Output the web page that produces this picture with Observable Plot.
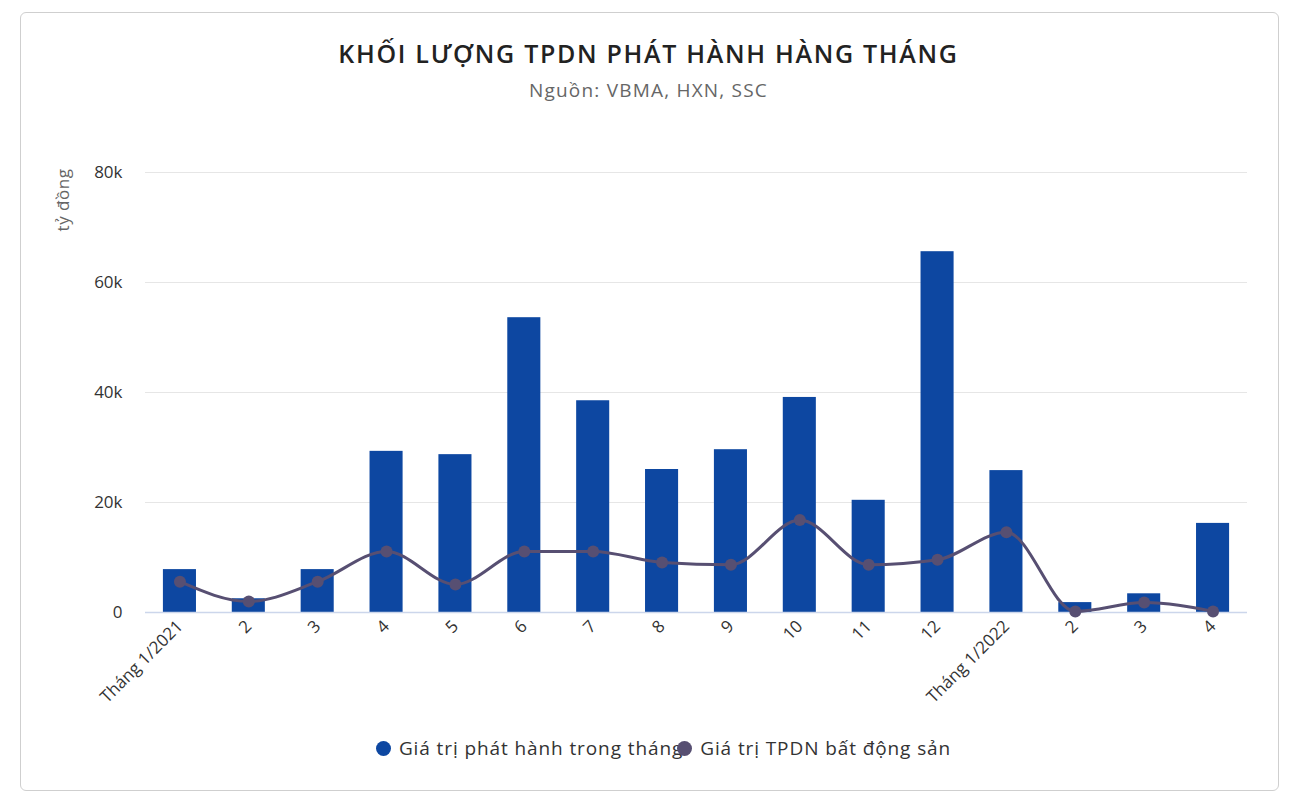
<!DOCTYPE html>
<html>
<head>
<meta charset="utf-8">
<script src="https://cdn.jsdelivr.net/npm/d3@7"></script>
<script src="https://cdn.jsdelivr.net/npm/@observablehq/plot@0.6"></script>
<style>
  html, body { margin: 0; padding: 0; background: #fff; width: 1297px; height: 794px; overflow: hidden; font-family: "Open Sans", Lato, sans-serif; }
  #card { position: absolute; left: 20px; top: 12px; width: 1257px; height: 777px; border: 1px solid #cfcfcf; border-radius: 6px; }
  #title { position: absolute; left: 0; width: 1297px; top: 36px; text-align: center; font-size: 25px; font-weight: 600; color: #222; letter-spacing: 1.7px; }
  #subtitle { position: absolute; left: 0; width: 1297px; top: 77px; text-align: center; font-size: 19px; color: #666; letter-spacing: 1.2px; }
  #ylabel { position: absolute; left: 62px; top: 200px; transform: translate(-50%, -50%) rotate(-90deg); font-size: 17px; color: #666; white-space: nowrap; letter-spacing: 0.5px; }
  #chart { position: absolute; left: 0; top: 130px; }
  #legend { position: absolute; left: 30px; width: 1267px; top: 735px; display: flex; justify-content: center; font-size: 19px; color: #333; letter-spacing: 0.9px; }
  .item { display: flex; align-items: center; }
  .sw { width: 15px; height: 15px; border-radius: 50%; margin-right: 8px; }
</style>
</head>
<body>
<div id="card"></div>
<div id="title">KHỐI LƯỢNG TPDN PHÁT HÀNH HÀNG THÁNG</div>
<div id="subtitle">Nguồn: VBMA, HXN, SSC</div>
<div id="ylabel">tỷ đồng</div>
<div id="chart"></div>
<div id="legend">
  <div class="item"><div class="sw" style="background:#0d47a1"></div><span>Giá trị phát hành trong tháng</span></div>
  <div class="item" style="margin-left:-6px"><div class="sw" style="background:#574f72"></div><span>Giá trị TPDN bất động sản</span></div>
</div>
<script>
const months = ["Tháng 1/2021","2","3","4","5","6","7","8","9","10","11","12","Tháng 1/2022","2 ","3 ","4 "];
const issuance = [7.8, 2.5, 7.8, 29.3, 28.7, 53.6, 38.5, 26.0, 29.6, 39.1, 20.4, 65.6, 25.8, 1.8, 3.4, 16.2];
const realEstate = [5.6, 2.0, 5.6, 11.1, 5.1, 11.1, 11.1, 9.1, 8.7, 16.8, 8.7, 9.6, 14.6, 0.2, 1.8, 0.2];
const yTicks = [0, 20, 40, 60, 80];

const barData = months.map((m, i) => ({month: m, value: issuance[i]}));
const lineData = months.map((m, i) => ({month: m, value: realEstate[i]}));

const chart = Plot.plot({
  width: 1297,
  height: 600,
  marginLeft: 145,
  marginRight: 50,
  marginTop: 42,
  marginBottom: 118,
  style: {fontFamily: "'Open Sans', Lato, sans-serif", fontSize: "17px", color: "#333", background: "transparent"},
  x: {type: "band", domain: months, round: false, paddingInner: 0.52, paddingOuter: 0.26, label: null, tickSize: 0, tickPadding: 11, tickRotate: -45, tickFormat: d => d.trim()},
  y: {domain: [0, 80], ticks: yTicks, tickFormat: d => d === 0 ? "0" : d + "k", label: null, tickSize: 0, tickPadding: 23},
  marks: [
    Plot.gridY(yTicks.filter(d => d > 0), {stroke: "#e6e6e6", strokeOpacity: 1, strokeWidth: 1}),
    Plot.barY(barData, {x: "month", y: "value", fill: "#0d47a1"}),
    Plot.ruleY([0], {stroke: "#ccd6eb", strokeWidth: 1.5}),
    Plot.line(lineData, {x: "month", y: "value", stroke: "#574f72", strokeWidth: 3, curve: "monotone-x"}),
    Plot.dot(lineData, {x: "month", y: "value", fill: "#574f72", r: 6})
  ]
});
document.getElementById("chart").appendChild(chart);
</script>
</body>
</html>
